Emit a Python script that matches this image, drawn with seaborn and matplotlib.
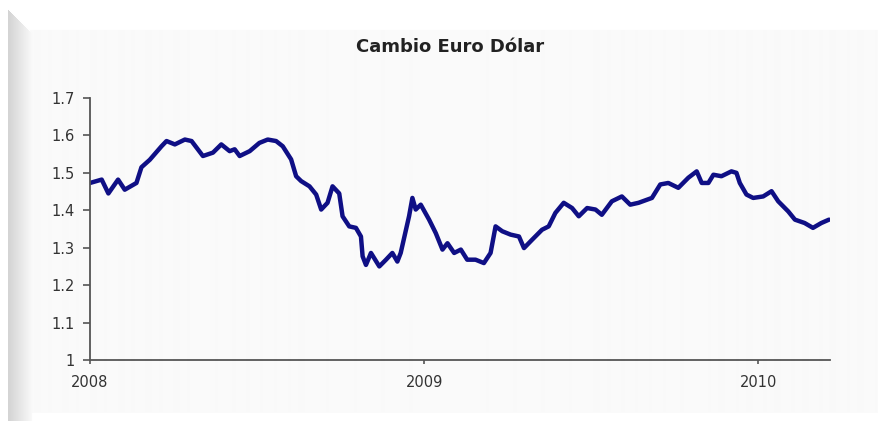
import numpy as np
import pandas as pd
import matplotlib
matplotlib.use("Agg")
import matplotlib.pyplot as plt
import seaborn as sns

# fractional year and EUR/USD rate
fecha = [2008.000, 2008.035, 2008.055, 2008.084, 2008.104, 2008.139, 2008.154, 2008.179,
         2008.214, 2008.229, 2008.254, 2008.284, 2008.304, 2008.338, 2008.368, 2008.393,
         2008.418, 2008.433, 2008.448, 2008.478, 2008.507, 2008.532, 2008.557, 2008.577,
         2008.602, 2008.617, 2008.632, 2008.657, 2008.677, 2008.692, 2008.711, 2008.726,
         2008.746, 2008.756, 2008.776, 2008.796, 2008.811, 2008.816, 2008.826, 2008.841,
         2008.866, 2008.886, 2008.905, 2008.920, 2008.930, 2008.955, 2008.965, 2008.975,
         2008.990, 2009.015, 2009.035, 2009.055, 2009.070, 2009.090, 2009.110, 2009.129,
         2009.154, 2009.179, 2009.199, 2009.214, 2009.234, 2009.259, 2009.284, 2009.299,
         2009.323, 2009.353, 2009.373, 2009.393, 2009.418, 2009.443, 2009.463, 2009.488,
         2009.513, 2009.532, 2009.562, 2009.592, 2009.617, 2009.642, 2009.682, 2009.707,
         2009.731, 2009.761, 2009.791, 2009.816, 2009.831, 2009.851, 2009.866, 2009.890,
         2009.920, 2009.935, 2009.945, 2009.965, 2009.985, 2010.015, 2010.040, 2010.060,
         2010.090, 2010.110, 2010.139, 2010.164, 2010.189, 2010.212]
cambio = [1.473, 1.482, 1.445, 1.482, 1.455, 1.473, 1.515, 1.535,
          1.571, 1.585, 1.576, 1.589, 1.585, 1.545, 1.554, 1.576,
          1.558, 1.563, 1.545, 1.558, 1.580, 1.589, 1.585, 1.571,
          1.536, 1.491, 1.478, 1.464, 1.442, 1.402, 1.420, 1.464,
          1.445, 1.384, 1.357, 1.353, 1.330, 1.277, 1.254, 1.286,
          1.250, 1.268, 1.286, 1.263, 1.286, 1.384, 1.433, 1.402,
          1.415, 1.375, 1.339, 1.295, 1.312, 1.286, 1.295, 1.268,
          1.268, 1.259, 1.286, 1.357, 1.344, 1.335, 1.330, 1.299,
          1.321, 1.348, 1.357, 1.393, 1.420, 1.406, 1.384, 1.406,
          1.402, 1.388, 1.424, 1.437, 1.415, 1.420, 1.433, 1.469,
          1.473, 1.460, 1.487, 1.504, 1.473, 1.473, 1.495, 1.491,
          1.504, 1.500, 1.473, 1.442, 1.433, 1.437, 1.451, 1.424,
          1.397, 1.375, 1.366, 1.353, 1.366, 1.375]

anios = [2008, 2009, 2010]
y_ticks = [1, 1.1, 1.2, 1.3, 1.4, 1.5, 1.6, 1.7]
y_labels = ["1", "1.1", "1.2", "1.3", "1.4", "1.5", "1.6", "1.7"]

df = pd.DataFrame({"fecha": fecha, "cambio": cambio})

sns.set_style("white")
plt.rcParams["font.family"] = ["DejaVu Sans"]

fig = plt.figure(figsize=(8.88, 4.21), dpi=100)
fig.patch.set_facecolor("white")

# framed panel background with shaded left edge
W, H = 888, 421
bg = np.ones((H, W))
xx, yy = np.meshgrid(np.arange(W), np.arange(H))
panel = (xx >= 30) & (xx <= 876) & (yy >= 30) & (yy <= 412)
bg[panel] = 0.978
strip = (xx >= 8) & (xx < 32) & (yy >= xx + 2)
bg[strip] = (0.83 + 0.15 * (xx[strip] - 8) / 24.0)
ax_bg = fig.add_axes([0, 0, 1, 1], zorder=-1)
ax_bg.imshow(bg, cmap="gray", vmin=0, vmax=1, aspect="auto", interpolation="bilinear")
ax_bg.axis("off")

ax = fig.add_axes([90 / W, 1 - 360 / H, (830 - 90) / W, (360 - 98) / H])
ax.set_facecolor("none")
sns.lineplot(data=df, x="fecha", y="cambio", ax=ax, color="#0f0f85",
             linewidth=3.2, estimator=None, sort=False)

ax.set_xlim(2008, 2010.215)
ax.set_ylim(1, 1.7)
ax.set_xticks(anios)
ax.set_xticklabels([str(a) for a in anios])
ax.set_yticks(y_ticks)
ax.set_yticklabels(y_labels)
ax.set_xlabel("")
ax.set_ylabel("")

for side in ["top", "right"]:
    ax.spines[side].set_visible(False)
for side in ["left", "bottom"]:
    ax.spines[side].set_color("#555555")
    ax.spines[side].set_linewidth(1.3)

ax.tick_params(axis="y", direction="out", length=5, width=1.2, color="#555555",
               labelsize=10.5, labelcolor="#333333", pad=6, left=True)
ax.tick_params(axis="x", direction="out", length=3, width=1.2, color="#555555",
               labelsize=10.5, labelcolor="#333333", pad=8, bottom=True)

fig.text(450 / W, 1 - 47 / H, "Cambio Euro Dólar", ha="center", va="center",
         fontsize=13, fontweight="bold", color="#222222")

fig.savefig("out.png", dpi=100)
